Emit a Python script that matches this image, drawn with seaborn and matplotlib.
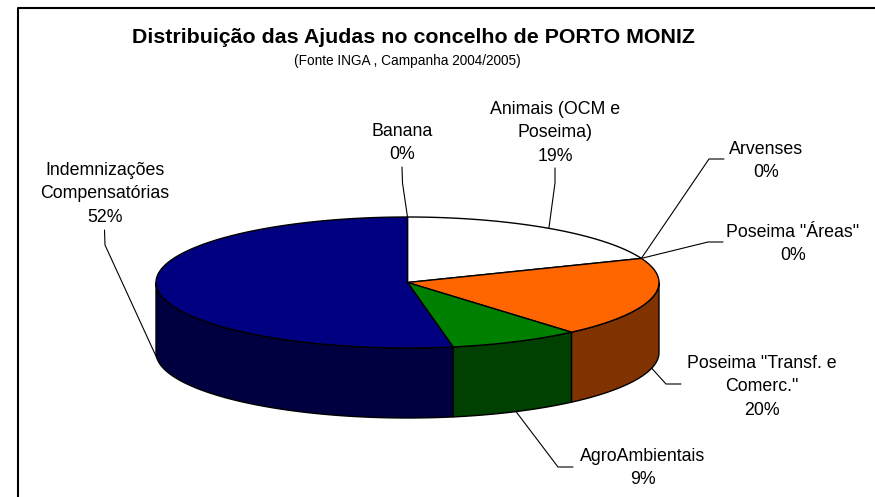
import numpy as np
import matplotlib
matplotlib.use("Agg")
import matplotlib.pyplot as plt
import seaborn as sns

# ---- data ----
categories = ["Banana", "Animais (OCM e\nPoseima)", "Arvenses", 'Poseima "Áreas"',
              'Poseima "Transf. e\nComerc."', "AgroAmbientais", "Indemnizações\nCompensatórias"]
slice_values = [0.0, 19.0, 0.0, 0.0, 19.7, 8.4, 52.9]
percent_labels = ["0%", "19%", "0%", "0%", "20%", "9%", "52%"]
top_colors = ["#FFFF99", "#FFFFFF", "#FF0000", "#00FF00", "#FF6600", "#008000", "#000080"]
wall_colors = ["#808040", "#808080", "#800000", "#008000", "#803300", "#004000", "#000040"]
title_text = "Distribuição das Ajudas no concelho de PORTO MONIZ"
subtitle_text = "(Fonte INGA , Campanha 2004/2005)"

# ---- layout (pixels) ----
W, H = 875, 497
CX, CY, RX, RY, DEPTH = 407.5, 282.5, 251.5, 65.5, 70
label_pos = [(402, 131.5), (555, 109.5), (766, 149.5), (793, 232.5), (762, 363.5), (643, 456.5), (105, 170.5)]
elbows = [[(402, 167), (402.5, 183)], [(555, 168), (555, 183)], [(724, 159), (709, 159)],
          [(723, 242), (708, 242)], [(681, 384), (666, 384)], [(573, 467), (558, 467)],
          [(104.5, 230), (105, 245)]]
LINE_STEP = 23.3

sns.set_theme(style="white")
plt.rcParams["font.family"] = ["Liberation Sans", "DejaVu Sans"]
fig = plt.figure(figsize=(W / 100, H / 100), dpi=100, facecolor="white")
ax = fig.add_axes([0, 0, 1, 1])
ax.set_xlim(0, W)
ax.set_ylim(H, 0)
ax.axis("off")


def rim(theta_deg, drop=0.0):
    t = np.radians(theta_deg)
    return CX + RX * np.sin(t), CY - RY * np.cos(t) + drop


shares = np.array(slice_values) / np.sum(slice_values) * 360.0
ends = np.cumsum(shares)
starts = ends - shares

# side walls: only the front half of the rim (90..270 degrees clockwise from 12 o'clock)
for a, b, c in zip(starts, ends, wall_colors):
    lo, hi = max(a, 90), min(b, 270)
    if hi <= lo:
        continue
    th = np.linspace(lo, hi, 120)
    x1, y1 = rim(th)
    x2, y2 = rim(th[::-1], DEPTH)
    ax.fill(np.r_[x1, x2], np.r_[y1, y2], facecolor=c, edgecolor="black", lw=1.0, zorder=2)

# top face
for a, b, c in zip(starts, ends, top_colors):
    if b - a <= 0:
        continue
    th = np.linspace(a, b, 200)
    x, y = rim(th)
    ax.fill(np.r_[CX, x], np.r_[CY, y], facecolor=c, edgecolor="black", lw=1.0, zorder=3)

# labels and leader lines
for name, pct, pos, elbow, a, b in zip(categories, percent_labels, label_pos, elbows, starts, ends):
    mid = (a + b) / 2
    lines = name.split("\n") + [pct]
    for i, line in enumerate(lines):
        ax.text(pos[0], pos[1] + i * LINE_STEP, line, ha="center", va="center",
                fontsize=12.8, color="black", zorder=5)
    end = rim(mid, DEPTH if 90 < mid < 270 else 0)
    px = [p[0] for p in elbow] + [end[0]]
    py = [p[1] for p in elbow] + [end[1]]
    ax.plot(px, py, color="black", lw=0.8, zorder=4)

ax.text(413, 37.5, title_text, ha="center", va="center", fontsize=15.4, fontweight="bold", color="black")
ax.text(407.5, 60.5, subtitle_text, ha="center", va="center", fontsize=9.8, color="black")

# chart frame
ax.plot([17.5, 17.5, W], [H, 7.5, 7.5], color="black", lw=1.5, zorder=1, clip_on=False)

fig.savefig("out.png", dpi=100, facecolor="white")
